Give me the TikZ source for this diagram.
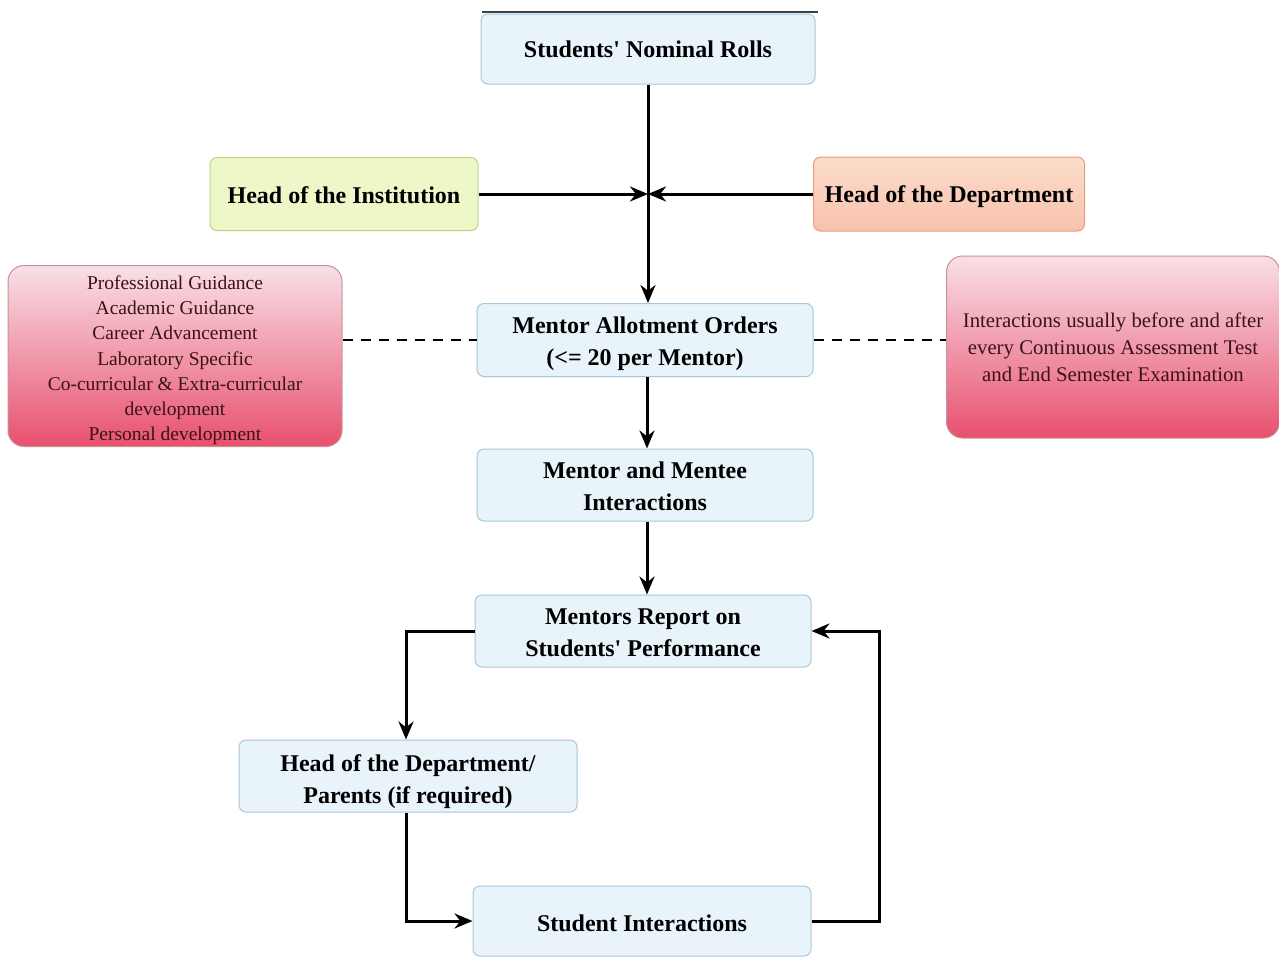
\documentclass[tikz,border=0pt]{standalone}
\usepackage{fontspec}
\setmainfont{Liberation Serif}
\usetikzlibrary{arrows.meta}
\definecolor{bluefill}{HTML}{E8F4FA}
\definecolor{blueline}{HTML}{A9C7DA}
\definecolor{greenfill}{HTML}{EEF7C8}
\definecolor{greenline}{HTML}{BCD48E}
\definecolor{peachtop}{HTML}{FCDCCB}
\definecolor{peachbot}{HTML}{F8C2AC}
\definecolor{peachline}{HTML}{E79C82}
\definecolor{pinktop}{HTML}{F9E0E7}
\definecolor{pinkbot}{HTML}{E8506F}
\definecolor{pinkline}{HTML}{C4949A}
\definecolor{pinktext}{HTML}{3A1414}
\newcommand{\sq}{\textquotesingle}
\newcommand{\lowr}[2]{\raisebox{-#1}[\height][\depth]{#2}}
\tikzset{
  x=1pt, y=-1pt,
  mainbox/.style={draw=blueline, line width=1pt, fill=bluefill, rounded corners=7pt,
    align=center, font=\fontsize{24}{32}\selectfont\bfseries, inner sep=0pt},
  pinkbox/.style={draw=pinkline, line width=1pt, top color=pinktop, bottom color=pinkbot,
    rounded corners=16pt, align=center, text=pinktext, inner sep=0pt},
  arr/.style={line width=3pt, -{Stealth[length=18pt,width=15pt]}},
  dashline/.style={line width=2.6pt, dash pattern=on 10pt off 8pt},
}
\begin{document}
\begin{tikzpicture}
\useasboundingbox (0,0) rectangle (1279,956);
\fill[white] (0,0) rectangle (1279,956);
\draw[line width=1.2pt, black!75] (482,12) -- (818,12);

\node[mainbox, minimum width=334pt, minimum height=70pt] (rolls) at (648,49) {Students\sq{} Nominal Rolls};
\node[mainbox, draw=greenline, fill=greenfill, minimum width=268pt, minimum height=73pt] (hoi) at (344,194) {\lowr{1pt}{Head of the Institution}};
\node[mainbox, draw=peachline, top color=peachtop, bottom color=peachbot, minimum width=271pt, minimum height=74pt] (hod) at (949,194) {\lowr{3pt}{Head of the Department}};
\coordinate (meet) at (648,194);
\node[mainbox, minimum width=336pt, minimum height=73pt] (allot) at (645,340) {\lowr{3pt}{\begin{tabular}{@{}c@{}}Mentor Allotment Orders\\(<= 20 per Mentor)\end{tabular}}};
\node[pinkbox, minimum width=334pt, minimum height=181pt, font=\fontsize{19.5}{25.3}\selectfont] (left) at (175,356)
  {\lowr{4pt}{\begin{tabular}{@{}c@{}}Professional Guidance\\Academic Guidance\\Career Advancement\\Laboratory Specific\\Co-curricular \& Extra-curricular\\development\\Personal development\end{tabular}}};
\node[pinkbox, minimum width=333pt, minimum height=182pt, font=\fontsize{20.8}{27}\selectfont] (right) at (1113,347)
  {\lowr{2pt}{\begin{tabular}{@{}c@{}}Interactions usually before and after\\every Continuous Assessment Test\\and End Semester Examination\end{tabular}}};
\node[mainbox, minimum width=336pt, minimum height=72pt] (mentee) at (645,485) {\lowr{3pt}{\begin{tabular}{@{}c@{}}Mentor and Mentee\\Interactions\end{tabular}}};
\node[mainbox, minimum width=336pt, minimum height=72pt] (report) at (643,631) {\lowr{3pt}{\begin{tabular}{@{}c@{}}Mentors Report on\\Students\sq{} Performance\end{tabular}}};
\node[mainbox, minimum width=338pt, minimum height=72pt] (parents) at (408,776) {\lowr{5pt}{\begin{tabular}{@{}c@{}}Head of the Department/\\Parents (if required)\end{tabular}}};
\node[mainbox, minimum width=338pt, minimum height=70pt] (student) at (642,921) {\lowr{2pt}{Student Interactions}};

\draw[arr] (rolls.south -| meet) -- (allot.north -| meet);
\draw[arr] (hoi.east) -- (meet);
\draw[arr] (hod.west |- meet) -- (meet);
\draw[dashline] (left.east |- allot) -- (allot.west);
\draw[dashline] (allot.east) -- (right.west |- allot);
\draw[arr] ([xshift=2pt]allot.south) -- ([xshift=2pt]mentee.north);
\draw[arr] ([xshift=2pt]mentee.south) -- ([xshift=4pt]report.north);
\draw[arr] (report.west) -| ([xshift=-2pt]parents.north);
\draw[arr] ([xshift=-2pt]parents.south) |- (student.west);
\draw[arr] (student.east) -- ++(68,0) |- (report.east);
\end{tikzpicture}
\end{document}
